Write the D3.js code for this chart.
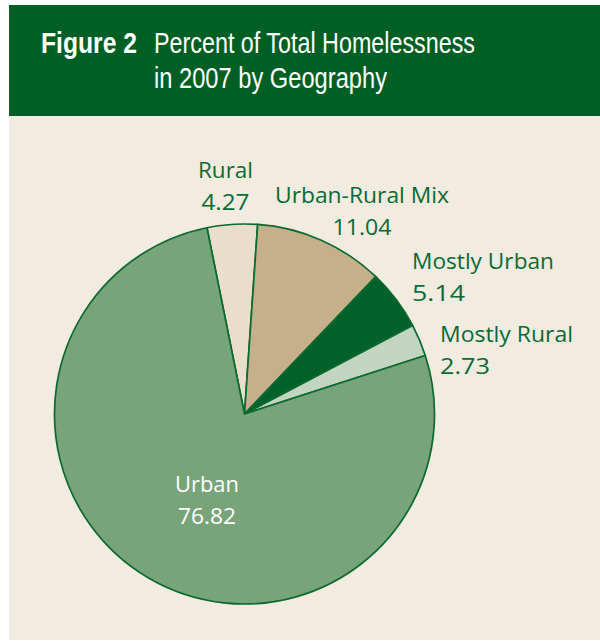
<!DOCTYPE html>
<html><head><meta charset="utf-8">
<script src="https://cdn.jsdelivr.net/npm/d3@7"></script>
<style>html,body{margin:0;padding:0;background:#fff;}svg{display:block;}</style>
</head><body>
<svg id="c" width="600" height="641"></svg>
<script>
const categories = ["Rural", "Urban-Rural Mix", "Mostly Urban", "Mostly Rural", "Urban"];
const values = [4.27, 11.04, 5.14, 2.73, 76.82];
const valueLabels = ["4.27", "11.04", "5.14", "2.73", "76.82"];
const colors = ["#e9ddcb", "#c5b08b", "#006228", "#c1d5c0", "#78a479"];

const svg = d3.select("#c");
const W = 600, H = 641;
const font = "'Open Sans', 'Noto Sans', sans-serif";
const headFont = "'Liberation Sans Narrow', 'Liberation Sans', sans-serif";

svg.append("rect").attr("x", 9).attr("y", 116).attr("width", W - 9).attr("height", H - 116 - 1).attr("fill", "#f1ebe0");
svg.append("rect").attr("x", 9).attr("y", 5).attr("width", W - 9).attr("height", 111).attr("fill", "#005f25");

const title = svg.append("g").attr("fill", "#ffffff").attr("font-family", headFont);
title.append("text").attr("x", 41).attr("y", 53).attr("font-size", 29).attr("font-weight", "bold")
  .attr("textLength", 96).attr("lengthAdjust", "spacingAndGlyphs").text("Figure 2");
title.append("text").attr("x", 154).attr("y", 53).attr("font-size", 29)
  .attr("textLength", 321).attr("lengthAdjust", "spacingAndGlyphs").text("Percent of Total Homelessness");
title.append("text").attr("x", 154).attr("y", 88).attr("font-size", 29)
  .attr("textLength", 233).attr("lengthAdjust", "spacingAndGlyphs").text("in 2007 by Geography");

const cx = 244.5, cy = 414, R = 190;
const start = -11.4 * Math.PI / 180;
const pie = d3.pie().sort(null).value(d => d).startAngle(start).endAngle(start + 2 * Math.PI);
const arcs = pie(values);
const arc = d3.arc().innerRadius(0).outerRadius(R);

const g = svg.append("g").attr("transform", `translate(${cx},${cy})`);
g.selectAll("path").data(arcs).enter().append("path")
  .attr("d", arc)
  .attr("fill", (d, i) => colors[i])
  .attr("stroke", "#0b6a2f").attr("stroke-width", 1.7).attr("stroke-linejoin", "round");

// label layout: [x, y(first baseline), anchor, color, width1, width2]
const layout = [
  [225.5, 178, "middle", "#0b6a35", 55, 48],
  [362, 203, "middle", "#0b6a35", 174, 59],
  [412, 269, "start", "#0b6a35", 142, 53],
  [440, 342, "start", "#0b6a35", 133, 50],
  [207, 492, "middle", "#ffffff", 64, 58]
];
const lab = svg.append("g").attr("font-family", font).attr("font-size", 22.5).attr("font-weight", 500);
categories.forEach((c, i) => {
  const L = layout[i];
  lab.append("text").attr("x", L[0]).attr("y", L[1]).attr("text-anchor", L[2]).attr("fill", L[3])
    .attr("textLength", L[4]).attr("lengthAdjust", "spacingAndGlyphs").text(c);
  lab.append("text").attr("x", L[0]).attr("y", L[1] + 32).attr("text-anchor", L[2]).attr("fill", L[3])
    .attr("textLength", L[5]).attr("lengthAdjust", "spacingAndGlyphs").text(valueLabels[i]);
});
</script>
</body></html>
